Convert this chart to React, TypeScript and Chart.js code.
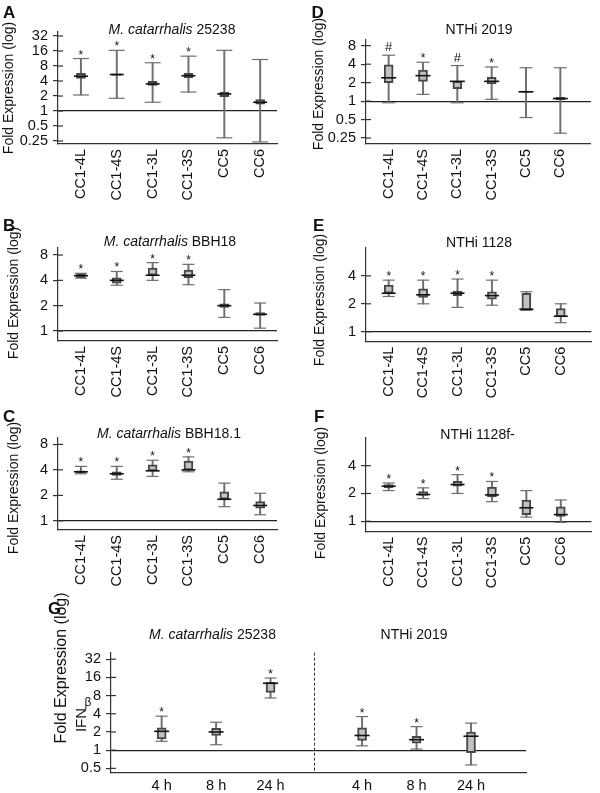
import React, { useEffect, useRef } from 'react';
import { Chart, registerables } from 'chart.js';

Chart.register(...registerables);

const FONT = '"Liberation Sans", Arial, Helvetica, sans-serif';

// ---------- categories ----------
const CC_LABELS = ['CC1-4L', 'CC1-4S', 'CC1-3L', 'CC1-3S', 'CC5', 'CC6'];
const CC_INDEX = [0, 1, 2, 3, 4, 5];
const TIME_LABELS = ['4 h', '8 h', '24 h'];
const TIME_INDEX = [0, 1, 2];
const G_GROUP_SHIFT = 3.68;
const G_DIVIDER = 2.79;

// ---------- tick values ----------
const TICKS_A = [0.25, 0.5, 1, 2, 4, 8, 16, 32];
const TICKS_BC = [1, 2, 4, 8];
const TICKS_D = [0.25, 0.5, 1, 2, 4, 8];
const TICKS_EF = [1, 2, 4];
const TICKS_G = [0.5, 1, 2, 4, 8, 16, 32];

// ---------- A: M. catarrhalis 25238 ----------
const A_MIN = [2.1, 1.8, 1.5, 2.4, 0.29, 0.24];
const A_Q1 = [4.5, 5.2, 3.25, 4.6, 1.95, 1.38];
const A_MED = [5.0, 5.4, 3.5, 5.1, 2.2, 1.5];
const A_Q3 = [5.7, 5.6, 3.95, 5.7, 2.4, 1.7];
const A_MAX = [11.3, 16.5, 9.3, 12.6, 16.5, 10.8];
const A_MARKS = ['*', '*', '*', '*', '', ''];

// ---------- B: M. catarrhalis BBH18 ----------
const B_MIN = [4.25, 3.5, 4.0, 3.55, 1.45, 1.08];
const B_Q1 = [4.3, 3.7, 4.6, 4.3, 1.9, 1.53];
const B_MED = [4.55, 4.0, 4.6, 4.6, 2.0, 1.58];
const B_Q3 = [4.8, 4.3, 5.6, 5.3, 2.1, 1.65];
const B_MAX = [4.85, 5.1, 6.5, 6.2, 3.1, 2.15];
const B_MARKS = ['*', '*', '*', '*', '', ''];

// ---------- C: M. catarrhalis BBH18.1 ----------
const C_MIN = [3.6, 3.1, 3.35, 3.8, 1.47, 1.18];
const C_Q1 = [3.7, 3.45, 3.9, 4.0, 1.8, 1.41];
const C_MED = [3.8, 3.6, 3.9, 4.0, 1.8, 1.52];
const C_Q3 = [3.9, 3.8, 4.6, 5.1, 2.2, 1.69];
const C_MAX = [4.4, 4.4, 5.2, 5.7, 2.79, 2.12];
const C_MARKS = ['*', '*', '*', '*', '', ''];

// ---------- D: NTHi 2019 ----------
const D_MIN = [0.94, 1.29, 0.94, 1.07, 0.54, 0.3];
const D_Q1 = [2.0, 2.1, 1.6, 1.9, 1.38, 1.05];
const D_MED = [2.4, 2.6, 2.1, 2.1, 1.42, 1.1];
const D_Q3 = [3.9, 3.2, 2.1, 2.45, 1.46, 1.15];
const D_MAX = [5.6, 4.3, 3.8, 3.6, 3.5, 3.5];
const D_MARKS = ['#', '*', '#', '*', '', ''];

// ---------- E: NTHi 1128 ----------
const E_MIN = [2.4, 2.0, 1.83, 1.93, 1.7, 1.25];
const E_Q1 = [2.6, 2.35, 2.45, 2.25, 1.7, 1.44];
const E_MED = [2.6, 2.5, 2.6, 2.45, 1.75, 1.47];
const E_Q3 = [3.18, 2.9, 2.75, 2.7, 2.6, 1.78];
const E_MAX = [3.6, 3.6, 3.7, 3.6, 2.7, 2.0];
const E_MARKS = ['*', '*', '*', '*', '', ''];

// ---------- F: NTHi 1128f- ----------
const F_MIN = [2.15, 1.76, 2.0, 1.63, 1.11, 0.97];
const F_Q1 = [2.3, 1.9, 2.4, 1.84, 1.18, 1.13];
const F_MED = [2.4, 1.95, 2.5, 1.93, 1.4, 1.18];
const F_Q3 = [2.5, 2.1, 2.7, 2.34, 1.7, 1.43];
const F_MAX = [2.6, 2.3, 3.2, 2.7, 2.15, 1.7];
const F_MARKS = ['*', '*', '*', '*', '', ''];

// ---------- G: IFNβ, M. catarrhalis 25238 ----------
const G1_MIN = [1.4, 1.23, 7.3];
const G1_Q1 = [1.53, 1.75, 9.0];
const G1_MED = [2.05, 2.0, 12.8];
const G1_Q3 = [2.33, 2.3, 13.2];
const G1_MAX = [3.65, 2.9, 15.6];
const G1_MARKS = ['*', '', '*'];

// ---------- G: IFNβ, NTHi 2019 ----------
const G2_MIN = [1.18, 1.04, 0.57];
const G2_Q1 = [1.45, 1.31, 0.91];
const G2_MED = [1.75, 1.49, 1.7];
const G2_Q3 = [2.33, 1.69, 2.0];
const G2_MAX = [3.6, 2.45, 2.8];
const G2_MARKS = ['*', '*', ''];

type BoxData = { min: number[]; q1: number[]; med: number[]; q3: number[]; max: number[]; marks: string[] };
type TitleSpec = { parts: [string, boolean][]; x: number; y: number };
type Spec = {
  key: string;
  area: [number, number, number, number];
  yRange: [number, number];
  yTicks: number[];
  xRange: [number, number];
  xPos: number[];
  xLabels: string[];
  rotate: boolean;
  box: BoxData;
  capR: number;
  medR: number;
  letter: [string, number, number];
  titles: TitleSpec[];
  yTitle: { text: string; x: number; y: number; size: number };
  divider?: number;
  ifn?: boolean;
};

const box = (min: number[], q1: number[], med: number[], q3: number[], max: number[], marks: string[]): BoxData =>
  ({ min, q1, med, q3, max, marks });

const SPECS: Spec[] = [
  {
    key: 'A', area: [58, 32, 277, 144], yRange: [0.218, 38.5], yTicks: TICKS_A,
    xRange: [-0.64, 5.47], xPos: CC_INDEX, xLabels: CC_LABELS, rotate: true,
    box: box(A_MIN, A_Q1, A_MED, A_Q3, A_MAX, A_MARKS), capR: 8, medR: 7,
    letter: ['A', 3, 18],
    titles: [{ parts: [['M. catarrhalis', true], [' 25238', false]], x: 172, y: 34 }],
    yTitle: { text: 'Fold Expression (log)', x: 9, y: 88, size: 14 },
  },
  {
    key: 'B', area: [58, 248, 277, 341], yRange: [0.76, 9.7], yTicks: TICKS_BC,
    xRange: [-0.64, 5.47], xPos: CC_INDEX, xLabels: CC_LABELS, rotate: true,
    box: box(B_MIN, B_Q1, B_MED, B_Q3, B_MAX, B_MARKS), capR: 6, medR: 7,
    letter: ['B', 3, 230.5],
    titles: [{ parts: [['M. catarrhalis', true], [' BBH18', false]], x: 170, y: 246 }],
    yTitle: { text: 'Fold Expression (log)', x: 14, y: 293, size: 14 },
  },
  {
    key: 'C', area: [58, 437.7, 277, 530], yRange: [0.78, 9.6], yTicks: TICKS_BC,
    xRange: [-0.64, 5.47], xPos: CC_INDEX, xLabels: CC_LABELS, rotate: true,
    box: box(C_MIN, C_Q1, C_MED, C_Q3, C_MAX, C_MARKS), capR: 6, medR: 7,
    letter: ['C', 3, 421.5],
    titles: [{ parts: [['M. catarrhalis', true], [' BBH18.1', false]], x: 169, y: 438 }],
    yTitle: { text: 'Fold Expression (log)', x: 14, y: 488, size: 14 },
  },
  {
    key: 'D', area: [366, 39.5, 600, 144], yRange: [0.2, 10.1], yTicks: TICKS_D,
    xRange: [-0.66, 5.89], xPos: CC_INDEX, xLabels: CC_LABELS, rotate: true,
    box: box(D_MIN, D_Q1, D_MED, D_Q3, D_MAX, D_MARKS), capR: 6.5, medR: 7.5,
    letter: ['D', 311.5, 17.5],
    titles: [{ parts: [['NTHi 2019', false]], x: 479, y: 34 }],
    yTitle: { text: 'Fold Expression (log)', x: 319, y: 84, size: 14 },
  },
  {
    key: 'E', area: [366, 248, 600, 341.7], yRange: [0.78, 8], yTicks: TICKS_EF,
    xRange: [-0.66, 5.89], xPos: CC_INDEX, xLabels: CC_LABELS, rotate: true,
    box: box(E_MIN, E_Q1, E_MED, E_Q3, E_MAX, E_MARKS), capR: 6, medR: 7,
    letter: ['E', 313, 230.5],
    titles: [{ parts: [['NTHi 1128', false]], x: 479, y: 247 }],
    yTitle: { text: 'Fold Expression (log)', x: 320, y: 300, size: 14 },
  },
  {
    key: 'F', area: [366, 437.7, 600, 531.7], yRange: [0.77, 8.05], yTicks: TICKS_EF,
    xRange: [-0.66, 5.89], xPos: CC_INDEX, xLabels: CC_LABELS, rotate: true,
    box: box(F_MIN, F_Q1, F_MED, F_Q3, F_MAX, F_MARKS), capR: 6, medR: 7,
    letter: ['F', 314, 421.5],
    titles: [{ parts: [['NTHi 1128f-', false]], x: 477.5, y: 439 }],
    yTitle: { text: 'Fold Expression (log)', x: 321, y: 493, size: 14 },
  },
  {
    key: 'G', area: [111, 652.7, 526, 772.3], yRange: [0.43, 41], yTicks: TICKS_G,
    xRange: [-0.93, 6.69],
    xPos: [...TIME_INDEX, ...TIME_INDEX.map((i) => i + G_GROUP_SHIFT)],
    xLabels: [...TIME_LABELS, ...TIME_LABELS], rotate: false,
    box: box(
      [...G1_MIN, ...G2_MIN], [...G1_Q1, ...G2_Q1], [...G1_MED, ...G2_MED],
      [...G1_Q3, ...G2_Q3], [...G1_MAX, ...G2_MAX], [...G1_MARKS, ...G2_MARKS]
    ),
    capR: 6, medR: 7.5,
    letter: ['G', 48, 614],
    titles: [
      { parts: [['M. catarrhalis', true], [' 25238', false]], x: 212.5, y: 639 },
      { parts: [['NTHi 2019', false]], x: 414, y: 638.5 },
    ],
    yTitle: { text: 'Fold Expression (log)', x: 62, y: 668, size: 16 },
    divider: G_DIVIDER,
    ifn: true,
  },
];

function decorPlugin(s: Spec) {
  return {
    id: 'decor' + s.key,
    afterDraw(chart: any) {
      const ctx: CanvasRenderingContext2D = chart.ctx;
      const xs = chart.scales.x;
      const ys = chart.scales.y;
      const ca = chart.chartArea;
      ctx.save();
      // inner half of the y tick marks
      ctx.strokeStyle = '#333';
      ctx.lineWidth = 1.2;
      ys.ticks.forEach((t: any) => {
        const py = ys.getPixelForValue(t.value);
        ctx.beginPath();
        ctx.moveTo(ca.left, py);
        ctx.lineTo(ca.left + 5, py);
        ctx.stroke();
      });
      // dashed divider
      if (s.divider !== undefined) {
        const px = Math.round(xs.getPixelForValue(s.divider)) + 0.5;
        ctx.save();
        ctx.setLineDash([3, 2]);
        ctx.lineWidth = 1;
        ctx.beginPath();
        ctx.moveTo(px, ca.top);
        ctx.lineTo(px, ca.bottom);
        ctx.stroke();
        ctx.restore();
      }
      // significance marks
      ctx.fillStyle = '#111';
      ctx.textAlign = 'center';
      ctx.textBaseline = 'alphabetic';
      s.box.marks.forEach((m, i) => {
        if (!m) return;
        const px = xs.getPixelForValue(s.xPos[i]);
        const py = ys.getPixelForValue(s.box.max[i]);
        if (m === '#') {
          ctx.font = `13px ${FONT}`;
          ctx.fillText(m, px, py - 4);
        } else {
          ctx.font = `12px ${FONT}`;
          ctx.fillText(m, px, py);
        }
      });
      // panel letter
      ctx.textAlign = 'left';
      ctx.font = `bold 17px ${FONT}`;
      ctx.fillText(s.letter[0], s.letter[1], s.letter[2]);
      // titles (mixed italic)
      s.titles.forEach((t) => {
        let total = 0;
        const widths = t.parts.map(([txt, it]) => {
          ctx.font = `${it ? 'italic ' : ''}14px ${FONT}`;
          const w = ctx.measureText(txt).width;
          total += w;
          return w;
        });
        let x = t.x - total / 2;
        t.parts.forEach(([txt, it], k) => {
          ctx.font = `${it ? 'italic ' : ''}14px ${FONT}`;
          ctx.fillText(txt, x, t.y);
          x += widths[k];
        });
      });
      // y axis title
      ctx.save();
      ctx.translate(s.yTitle.x, s.yTitle.y);
      ctx.rotate(-Math.PI / 2);
      ctx.textAlign = 'center';
      ctx.textBaseline = 'middle';
      ctx.font = `${s.yTitle.size}px ${FONT}`;
      ctx.fillText(s.yTitle.text, 0, 0);
      ctx.restore();
      if (s.ifn) {
        ctx.save();
        ctx.translate(82, 720);
        ctx.rotate(-Math.PI / 2);
        ctx.textAlign = 'center';
        ctx.textBaseline = 'middle';
        ctx.font = `15px ${FONT}`;
        ctx.fillText('IFN', 0, 0);
        ctx.restore();
        ctx.textAlign = 'center';
        ctx.textBaseline = 'middle';
        ctx.font = `12px ${FONT}`;
        ctx.fillText('β', 88, 703);
      }
      ctx.restore();
    },
  };
}

function buildConfig(s: Spec): any {
  const [l, t, r, b] = s.area;
  const YW = 50;
  const XH = s.rotate ? 62 : 22;
  const pts = (arr: number[]) => arr.map((v, i) => ({ x: s.xPos[i], y: v }));
  const rot = s.rotate ? 90 : 0;
  return {
    type: 'bar',
    data: {
      datasets: [
        {
          type: 'bar',
          data: s.xPos.map((x, i) => ({ x, y: [s.box.min[i], s.box.max[i]] })),
          backgroundColor: '#6f6f6f',
          borderWidth: 0,
          barThickness: 1.3,
          grouped: false,
          order: 4,
        },
        {
          type: 'bar',
          data: s.xPos.map((x, i) => ({ x, y: [s.box.q1[i], s.box.q3[i]] })),
          backgroundColor: '#c2c2c2',
          borderColor: '#474747',
          borderWidth: 2,
          borderSkipped: false,
          barThickness: 9,
          grouped: false,
          order: 3,
        },
        {
          type: 'scatter',
          data: [...pts(s.box.min), ...pts(s.box.max)],
          pointStyle: 'line',
          pointRadius: s.capR,
          pointBorderColor: '#6f6f6f',
          pointBorderWidth: 1.2,
          showLine: false,
          clip: false,
          order: 2,
        },
        {
          type: 'scatter',
          data: pts(s.box.med),
          pointStyle: 'line',
          pointRadius: s.medR,
          pointBorderColor: '#111',
          pointBorderWidth: 1.6,
          showLine: false,
          clip: false,
          order: 1,
        },
      ],
    },
    options: {
      responsive: false,
      animation: false,
      events: [],
      layout: { padding: { left: l - YW, top: t, right: 600 - r, bottom: 793 - b - XH } },
      plugins: { legend: { display: false }, tooltip: { enabled: false }, title: { display: false } },
      scales: {
        x: {
          type: 'linear',
          offset: false,
          bounds: 'data',
          min: s.xRange[0],
          max: s.xRange[1],
          afterBuildTicks: (sc: any) => {
            sc.ticks = s.xPos.map((v) => ({ value: v }));
          },
          afterFit: (sc: any) => {
            sc.height = XH;
          },
          grid: { display: false, drawTicks: false, offset: false },
          border: { display: true, color: '#333', width: 1.2 },
          ticks: {
            autoSkip: false,
            minRotation: rot,
            maxRotation: rot,
            padding: 5,
            color: '#111',
            font: { family: FONT, size: 14.5 },
            callback: (_v: any, i: number) => s.xLabels[i],
          },
        },
        y: {
          type: 'logarithmic',
          bounds: 'data',
          min: s.yRange[0],
          max: s.yRange[1],
          afterBuildTicks: (sc: any) => {
            sc.ticks = s.yTicks.map((v) => ({ value: v }));
          },
          afterFit: (sc: any) => {
            sc.width = YW;
          },
          grid: {
            color: (c: any) => (c.tick && c.tick.value === 1 ? '#222' : 'rgba(0,0,0,0)'),
            lineWidth: 1.2,
            tickColor: '#333',
            tickWidth: 1.2,
            tickLength: 5,
            drawTicks: true,
          },
          border: { display: true, color: '#333', width: 1.2 },
          ticks: {
            autoSkip: false,
            padding: 5,
            color: '#111',
            font: { family: FONT, size: 14.5 },
            callback: (v: any) => String(v),
          },
        },
      },
    },
    plugins: [decorPlugin(s)],
  };
}

function Panel({ spec }: { spec: Spec }) {
  const ref = useRef<HTMLCanvasElement>(null);
  useEffect(() => {
    const chart = new Chart(ref.current as HTMLCanvasElement, buildConfig(spec));
    return () => chart.destroy();
  }, [spec]);
  return (
    <canvas
      ref={ref}
      width={600}
      height={793}
      style={{ position: 'absolute', left: 0, top: 0, width: 600, height: 793 }}
    />
  );
}

export default function App() {
  return (
    <div
      style={{
        position: 'absolute',
        left: 0,
        top: 0,
        width: 600,
        height: 793,
        background: '#fff',
        overflow: 'hidden',
      }}
    >
      {SPECS.map((s) => (
        <Panel key={s.key} spec={s} />
      ))}
    </div>
  );
}
